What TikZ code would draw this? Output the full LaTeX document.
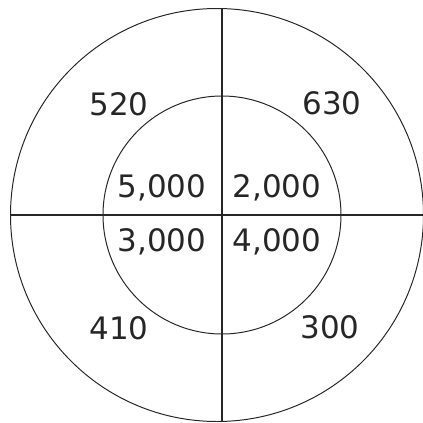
\documentclass[tikz,border=0pt]{standalone}
\usepackage{fontspec}
\setmainfont{DejaVu Sans}
\usepackage{tikz}
\usetikzlibrary{positioning, calc}

\begin{document}
\begin{tikzpicture}[
    x=0.025cm, y=-0.025cm,
    ring/.style = {draw=black!85, line width=0.7pt},
    axis/.style = {draw=black!85, line width=0.8pt},
    val/.style = {font=\fontsize{22}{26}\selectfont, text=black!85, inner sep=0pt}
]
\useasboundingbox (0,0) rectangle (423,423);

% Circles
\coordinate (c_out) at (217,215);
\coordinate (c_in) at (222,215);
\draw [ring] (c_out) circle [radius=206.5];
\draw [ring] (c_in) circle [radius=119];

% Axes
\coordinate (a_left) at (11,215);
\coordinate (a_right) at (423,215);
\coordinate (a_top) at (222,8);
\coordinate (a_bot) at (222,422);
\draw [axis] (a_left) -- (a_right);
\draw [axis] (a_top) -- (a_bot);

% Outer values
\node (v_nw) [val] at (119,104) {520};
\node (v_ne) [val] at (332,103) {630};
\node (v_sw) [val] at (119,328) {410};
\node (v_se) [val] at (330,327) {300};

% Inner values
\node (w_nw) [val] at (162,188) {5,000};
\node (w_ne) [val] at (277,188) {2,000};
\node (w_sw) [val] at (162,242) {3,000};
\node (w_se) [val] at (277,242) {4,000};

\end{tikzpicture}
\end{document}
